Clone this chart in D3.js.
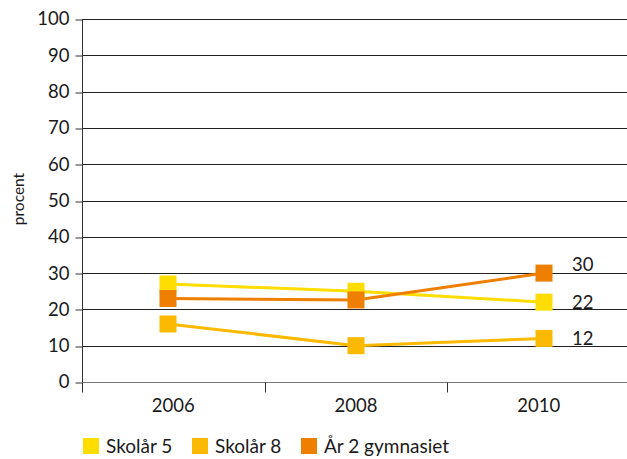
<!DOCTYPE html>
<html><head><meta charset="utf-8">
<script src="https://cdn.jsdelivr.net/npm/d3@7"></script>
<style>body{margin:0;background:#fff}svg{display:block}text{font-family:Lato,"Open Sans",sans-serif;fill:#1a1a1a}</style>
</head><body><svg id="c" width="627" height="459"></svg>
<script>
const years = ["2006","2008","2010"];
const seriesNames = ["Skolår 5","Skolår 8","År 2 gymnasiet"];
const skolar5 = [27, 25, 22];
const skolar8 = [16, 10, 12];
const ar2gym = [23, 22.6, 30];
const endLabels = ["22","12","30"];
const yTicks = [0,10,20,30,40,50,60,70,80,90,100];
const colors = ["#FFDD00","#FBBA00","#EE7F00"];

const series = [skolar5, skolar8, ar2gym];
const svg = d3.select("#c");
const L = 82, R = 630, T = 19, B = 382;
const y = d3.scaleLinear().domain([0,100]).range([B,T]);
const xb = d3.scaleBand().domain(years).range([L,R]);
const xp = d3.scalePoint().domain(years).range([168,544]);

// gridlines
svg.append("g").selectAll("line").data(yTicks.filter(d=>d>0)).join("line")
  .attr("x1",L).attr("x2",R).attr("y1",d=>Math.round(y(d))+0.5).attr("y2",d=>Math.round(y(d))+0.5)
  .attr("stroke","#222").attr("stroke-width",1);

// y axis
const ya = svg.append("g").attr("transform",`translate(${L+0.5},0)`)
  .call(d3.axisLeft(y).tickValues(yTicks).tickSize(7).tickPadding(6).tickFormat(d3.format("d")));
ya.select(".domain").attr("stroke","#333").attr("d",`M0,${T}V${B}`);
ya.selectAll(".tick line").attr("stroke","#333").attr("transform",d=>`translate(0,${Math.round(y(d))+0.5-y(d)})`);
ya.selectAll(".tick text").attr("font-size",18.5).attr("font-family","Lato").attr("fill","#1a1a1a");

// x axis
const xg = svg.append("g").attr("transform",`translate(0,${B+0.5})`);
xg.append("line").attr("x1",L).attr("x2",R).attr("stroke","#777");
xg.selectAll("line.t").data(years.slice(0)).join("line").attr("class","t")
  .attr("x1",d=>Math.round(xb(d))+0.5).attr("x2",d=>Math.round(xb(d))+0.5).attr("y1",0).attr("y2",10).attr("stroke","#333");
xg.selectAll("text").data(years).join("text")
  .attr("x",d=>xb(d)+xb.bandwidth()/2).attr("y",29).attr("text-anchor","middle")
  .attr("font-size",18.5).text(d=>d);

// y label
svg.append("text").attr("transform","translate(24,199) rotate(-90)").attr("text-anchor","middle")
  .attr("font-size",15.5).text("procent");

// lines and markers
const line = d3.line().x((d,i)=>xp(years[i])).y(d=>y(d));
series.forEach((s,k)=>{
  svg.append("path").datum(s).attr("d",line).attr("fill","none").attr("stroke",colors[k]).attr("stroke-width",3);
});
series.forEach((s,k)=>{
  svg.append("g").selectAll("rect").data(s).join("rect")
    .attr("x",(d,i)=>xp(years[i])-8.5).attr("y",d=>y(d)-8.5).attr("width",17).attr("height",17)
    .attr("fill",colors[k]);
});
// end labels
series.forEach((s,k)=>{
  svg.append("text").attr("x",572).attr("y",y(s[2])+(k===2?-9:0)).attr("dy","0.35em")
    .attr("font-size",18.5).text(endLabels[k]);
});

// legend
const lg = svg.append("g");
const lx = [83, 192, 301];
seriesNames.forEach((n,k)=>{
  lg.append("rect").attr("x",lx[k]).attr("y",438).attr("width",16).attr("height",16).attr("fill",colors[k]);
  lg.append("text").attr("x",lx[k]+23).attr("y",453).attr("font-size",19).text(n);
});
</script></body></html>
